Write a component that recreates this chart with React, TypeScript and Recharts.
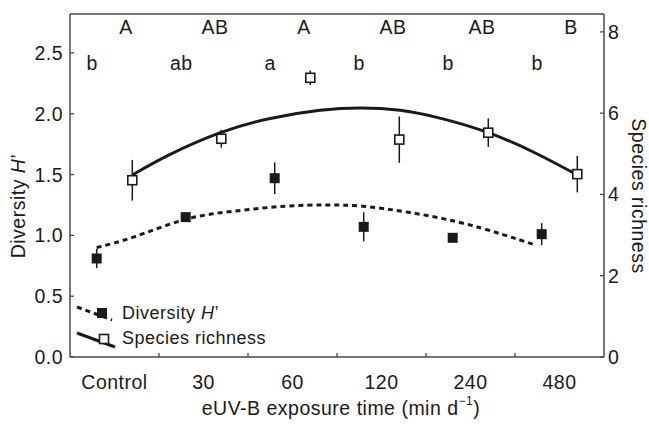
import React from 'react'
import { ComposedChart, XAxis, YAxis, Scatter, Line, ErrorBar, Legend, Label } from 'recharts'

const FONT = '"Liberation Sans", Arial, Helvetica, sans-serif'
const INK = '#1a1a1a'
const FRAME = '#4a4a4a'

const categories = ['Control', '30', '60', '120', '240', '480']
const diversity = [0.81, 1.15, 1.47, 1.07, 0.98, 1.01]
const diversityErr = [0.08, 0.03, 0.13, 0.12, 0.03, 0.09]
const richness = [4.35, 5.37, 6.87, 5.35, 5.52, 4.5]
const richnessErr = [0.5, 0.22, 0.18, 0.57, 0.35, 0.45]
const upperLetters = ['A', 'AB', 'A', 'AB', 'AB', 'B']
const lowerLetters = ['b', 'ab', 'a', 'b', 'b', 'b']

// fitted curves (x in category units)
const diversityFitX = [0.3, 0.73, 1.29, 1.85, 2.42, 2.87, 3.28, 3.8, 4.36, 4.85, 5.23]
const diversityFitY = [0.9, 0.99, 1.13, 1.2, 1.24, 1.25, 1.24, 1.19, 1.11, 1.01, 0.92]
const richnessFitX = [0.7, 1.12, 1.69, 2.25, 2.81, 3.26, 3.71, 4.19, 4.7, 5.2, 5.7]
const richnessFitY = [4.48, 4.98, 5.52, 5.87, 6.07, 6.13, 6.07, 5.86, 5.52, 5.05, 4.48]

const leftTicks = [0, 0.5, 1, 1.5, 2, 2.5]
const rightTicks = [0, 2, 4, 6, 8]

// marker offsets inside each category slot
const DIV_OFF = 0.3
const RICH_OFF = 0.7

const divPoints = diversity.map((y, i) => ({ x: i + DIV_OFF, y, err: diversityErr[i] }))
const richPoints = richness.map((y, i) => ({ x: i + RICH_OFF, y, err: richnessErr[i] }))
const divFit = diversityFitX.map((x, i) => ({ x, y: diversityFitY[i] }))
const richFit = richnessFitX.map((x, i) => ({ x, y: richnessFitY[i] }))
const upperRow = upperLetters.map((label, i) => ({ x: i + 0.63, y: 2.71, label }))
const lowerRow = lowerLetters.map((label, i) => ({ x: i + 0.25, y: 2.42, label }))

const bottomTicks = [0.5, 1, 1.5, 2, 2.5, 3, 3.5, 4, 4.5, 5, 5.5]
const boundaryTicks = [1, 2, 3, 4, 5]

const textStyle = { fontFamily: FONT, fontSize: 19.5, fill: INK, letterSpacing: 0.5 }

function BottomTick(p: any) {
  const v = p.payload.value
  if (Number.isInteger(v)) {
    return <line x1={p.x} x2={p.x} y1={p.y} y2={p.y - 4} stroke={FRAME} strokeWidth={1.3} />
  }
  return (
    <text x={p.x} y={p.y + 25} textAnchor="middle" dominantBaseline="central" style={textStyle}>
      {categories[Math.floor(v)]}
    </text>
  )
}

function TopTick(p: any) {
  return <line x1={p.x} x2={p.x} y1={p.y} y2={p.y + 4} stroke={FRAME} strokeWidth={1.3} />
}

function LeftTick(p: any) {
  return (
    <g>
      <line x1={p.x} x2={p.x + 4} y1={p.y} y2={p.y} stroke={FRAME} strokeWidth={1.3} />
      <text x={p.x - 7} y={p.y} textAnchor="end" dominantBaseline="central" style={textStyle}>
        {Number(p.payload.value).toFixed(1)}
      </text>
    </g>
  )
}

function RightTick(p: any) {
  return (
    <g>
      <line x1={p.x} x2={p.x - 4} y1={p.y} y2={p.y} stroke={FRAME} strokeWidth={1.3} />
      <text x={p.x + 4} y={p.y} textAnchor="start" dominantBaseline="central" style={textStyle}>
        {p.payload.value}
      </text>
    </g>
  )
}

const FilledSquare = (p: any) => (
  <rect x={p.cx - 5} y={p.cy - 5} width={10} height={10} fill={INK} />
)

const OpenSquare = (p: any) => (
  <rect x={p.cx - 4.5} y={p.cy - 4.5} width={9} height={9} fill="#fff" stroke={INK} strokeWidth={1.6} />
)

const Letter = (p: any) => (
  <text x={p.cx} y={p.cy} textAnchor="middle" dominantBaseline="central" style={textStyle}>
    {p.payload.label}
  </text>
)

function LegendBox() {
  const ts = { fontFamily: FONT, fontSize: 18, fill: INK, letterSpacing: 0.5 }
  return (
    <svg width={230} height={54} style={{ display: 'block' }}>
      <line x1={5} y1={11} x2={40} y2={24} stroke={INK} strokeWidth={3} strokeDasharray="5 4" />
      <rect x={25} y={12} width={10} height={10} fill={INK} />
      <text x={50} y={17} dominantBaseline="central" style={ts}>
        Diversity <tspan fontStyle="italic">H</tspan>’
      </text>
      <line x1={5} y1={37} x2={43} y2={51} stroke={INK} strokeWidth={3} />
      <rect x={27.5} y={38.5} width={9} height={9} fill="#fff" stroke={INK} strokeWidth={1.6} />
      <text x={50} y={42} dominantBaseline="central" style={ts}>
        Species richness
      </text>
    </svg>
  )
}

export default function App() {
  return (
    <div style={{ position: 'absolute', left: 0, top: 0, width: 649, height: 424, background: '#fff' }}>
      <ComposedChart width={649} height={424} margin={{ top: 0, right: 0, bottom: 0, left: 0 }}>
        <XAxis
          xAxisId="b"
          dataKey="x"
          type="number"
          domain={[0, 6]}
          ticks={bottomTicks}
          interval={0}
          height={67}
          tickSize={0}
          tickMargin={0}
          tickLine={false}
          tick={<BottomTick />}
          axisLine={{ stroke: FRAME, strokeWidth: 1.5 }}
        >
          <Label
            content={() => (
              <text x={341} y={408} textAnchor="middle" dominantBaseline="central" style={textStyle}>
                eUV-B exposure time (min d
                <tspan dy={-7} fontSize={12}>−1</tspan>
                <tspan dy={7}>)</tspan>
              </text>
            )}
          />
        </XAxis>
        <XAxis
          xAxisId="top"
          orientation="top"
          dataKey="x"
          type="number"
          domain={[0, 6]}
          ticks={boundaryTicks}
          interval={0}
          height={14}
          tickSize={0}
          tickMargin={0}
          tickLine={false}
          tick={<TopTick />}
          axisLine={{ stroke: FRAME, strokeWidth: 1.5 }}
        />
        <YAxis
          yAxisId="left"
          dataKey="y"
          type="number"
          domain={[0, 2.82]}
          ticks={leftTicks}
          interval={0}
          width={70}
          tickSize={0}
          tickMargin={0}
          tickLine={false}
          tick={<LeftTick />}
          axisLine={{ stroke: FRAME, strokeWidth: 1.5 }}
        >
          <Label
            content={() => (
              <text
                x={18}
                y={206}
                transform="rotate(-90 18 206)"
                textAnchor="middle"
                dominantBaseline="central"
                style={textStyle}
              >
                Diversity <tspan fontStyle="italic">H</tspan>’
              </text>
            )}
          />
        </YAxis>
        <YAxis
          yAxisId="right"
          orientation="right"
          dataKey="y"
          type="number"
          domain={[0, 8.44]}
          ticks={rightTicks}
          interval={0}
          width={45}
          tickSize={0}
          tickMargin={0}
          tickLine={false}
          tick={<RightTick />}
          axisLine={{ stroke: FRAME, strokeWidth: 1.5 }}
        >
          <Label
            content={() => (
              <text
                x={639}
                y={196}
                transform="rotate(90 639 196)"
                textAnchor="middle"
                dominantBaseline="central"
                style={textStyle}
              >
                Species richness
              </text>
            )}
          />
        </YAxis>

        <Line
          xAxisId="b"
          yAxisId="right"
          data={richFit}
          dataKey="y"
          type="natural"
          stroke={INK}
          strokeWidth={3}
          dot={false}
          activeDot={false}
          isAnimationActive={false}
        />
        <Line
          xAxisId="b"
          yAxisId="left"
          data={divFit}
          dataKey="y"
          type="natural"
          stroke={INK}
          strokeWidth={3}
          strokeDasharray="5 4"
          dot={false}
          activeDot={false}
          isAnimationActive={false}
        />

        <Scatter xAxisId="b" yAxisId="left" data={divPoints} shape={FilledSquare} isAnimationActive={false}>
          <ErrorBar dataKey="err" direction="y" width={0} stroke={INK} strokeWidth={1.5} />
        </Scatter>
        <Scatter xAxisId="b" yAxisId="right" data={richPoints} shape={OpenSquare} isAnimationActive={false}>
          <ErrorBar dataKey="err" direction="y" width={0} stroke={INK} strokeWidth={1.5} />
        </Scatter>

        <Scatter xAxisId="b" yAxisId="left" data={upperRow} shape={Letter} isAnimationActive={false} />
        <Scatter xAxisId="b" yAxisId="left" data={lowerRow} shape={Letter} isAnimationActive={false} />

        <Legend
          layout="vertical"
          align="center"
          verticalAlign="middle"
          content={() => <LegendBox />}
          wrapperStyle={{ left: 72, top: 296, width: 230, height: 54 }}
        />
      </ComposedChart>
    </div>
  )
}
